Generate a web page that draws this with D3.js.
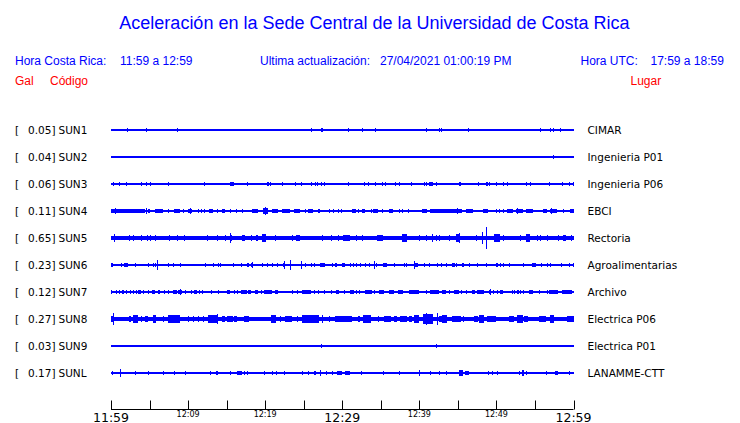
<!DOCTYPE html>
<html><head><meta charset="utf-8">
<script src="https://cdn.jsdelivr.net/npm/d3@7"></script>
<style>
html,body{margin:0;padding:0;background:#fff;}
svg{display:block;}
</style></head>
<body>
<svg id="c" width="740" height="423"></svg>
<script>
// ---------- data ----------
const codes  = ["SUN1","SUN2","SUN3","SUN4","SUN5","SUN6","SUN7","SUN8","SUN9","SUNL"];
const places = ["CIMAR","Ingenieria P01","Ingenieria P06","EBCI","Rectoria","Agroalimentarias","Archivo","Electrica P06","Electrica P01","LANAMME-CTT"];
const peaks  = [0.05,0.04,0.06,0.11,0.65,0.23,0.12,0.27,0.03,0.17];
const noise  = [0.03,0.03,0.03,0.03,0.12,0.03,0.03,0.13,0.03,0.03];
const tickMinutes = [0,5,10,15,20,25,30,35,40,45,50,55,60];
const tickLabels  = {0:"11:59",10:"12:09",20:"12:19",30:"12:29",40:"12:39",50:"12:49",60:"12:59"};
const majorTicks  = [0,30,60];

// events: [minute, amplitude (Gal), duration (min)]
const sun1Events = [[2.1,.1,0],[4.5,.1,0],[8.6,.1,0],[26.0,.06,0],[27.3,.1,.2],[30.8,.06,0],[32.5,.06,0],[34.2,.06,0],[40.9,.1,0],[42.5,.1,0],[42.8,.08,0],[46.3,.1,0],[55.6,.1,0],[56.9,.1,.15],[57.4,.1,0],[58.2,.1,0]];
const sun2Events = [[57.3,.1,0]];
const sun3Events = [[0.3,.08,0],[1.1,.08,0],[1.9,.08,0],[3.9,.06,0],[4.5,.06,0],[5.1,.08,0],[7.4,.06,0],[12.1,.08,0],[15.5,.1,.4],[17.6,.08,0],[20.2,.1,.3],[20.6,.08,0],[22.2,.08,0],[23.9,.08,0],[24.6,.06,0],[25.9,.06,0],[26.4,.08,0],[26.7,.06,0],[27.2,.06,0],[27.6,.1,.2],[30.7,.06,0],[32.8,.06,0],[33.3,.08,0],[34.3,.06,0],[35.2,.06,0],[35.5,.06,0],[36.9,.06,0],[37.4,.08,0],[38.9,.08,0],[40.6,.08,0],[40.8,.06,0],[41.3,.1,.3],[41.6,.08,0],[42.2,.08,0],[45.1,.1,.3],[47.6,.06,0],[48.7,.1,.2],[49.1,.08,0],[50.0,.08,0],[50.8,.06,0],[51.4,.06,0],[53.8,.06,0],[54.3,.1,.2],[56.8,.06,0],[58.5,.1,.2],[59.4,.08,0],[59.9,.08,0]];
const sun4Events = [[0,.1,1.2],[0.5,.16,0],[1.2,.06,.9],[2.1,.08,2.3],[4.5,.16,0],[4.8,.08,.2],[5.7,.08,1.1],[7.4,.06,0],[8.2,.08,.8],[9.4,.08,0],[10,.1,.5],[10.2,.16,0],[11.3,.06,0],[11.7,.06,0],[12.1,.06,0],[12.7,.1,.5],[13.8,.06,0],[14.4,.08,.4],[15.5,.06,0],[16.2,.06,0],[17,.06,0],[18.3,.08,.8],[19.7,.12,.7],[20,.18,0],[20.9,.08,.7],[22.2,.08,1.0],[23.8,.08,.7],[25.2,.06,0],[25.6,.08,.6],[26.8,.08,.3],[28.3,.06,0],[28.8,.06,0],[29.4,.06,0],[29.9,.05,0],[31.3,.08,.5],[32,.05,0],[32.6,.06,.3],[33.7,.05,0],[34,.08,.7],[35.2,.05,0],[36.1,.08,.5],[37.4,.05,0],[37.7,.05,0],[38.5,.05,0],[40.3,.08,.7],[41.4,.08,4.1],[44.9,.14,0],[46.1,.08,.8],[48.2,.08,.7],[50,.05,0],[50.3,.05,0],[50.8,.05,.2],[51.4,.06,.7],[52.5,.1,.9],[52.7,.14,0],[53.8,.08,.9],[56.1,.08,.5],[56.9,.08,1.0],[57.1,.12,0],[58.7,.05,0],[59.6,.08,.4]];
const sun5Events = [[0.4,.18,0],[2.3,.16,0],[2.9,.14,0],[3.9,.16,0],[4.7,.16,0],[5.1,.14,0],[5.7,.14,0],[7.5,.14,0],[8.6,.16,0],[9.5,.14,0],[12.5,.14,0],[13.8,.16,0],[14.8,.14,0],[15.5,.24,0],[15.6,.14,0],[17,.16,.4],[18.2,.14,0],[18.8,.14,0],[19,.14,0],[19.6,.18,.5],[21.3,.14,0],[23.5,.14,0],[24,.16,.5],[27.4,.14,0],[28.6,.14,0],[29.5,.14,0],[30.1,.16,.9],[31.8,.14,0],[32.6,.14,0],[34.5,.16,.8],[37.7,.18,.7],[39.9,.14,0],[40.8,.16,0],[41.6,.2,0],[42.1,.14,0],[42.6,.14,0],[43.9,.16,0],[44.7,.2,.5],[45.1,.24,0],[47.3,.14,0],[48.1,.3,0],[48.7,.62,0],[49.7,.18,.8],[50.8,.14,0],[53,.14,0],[53.9,.18,.5],[55.3,.14,0],[55.7,.14,0],[56.5,.14,0],[58,.14,0],[58.6,.16,.4],[59.7,.14,0]];
const sun6Events = [[0,.08,.3],[1.3,.05,0],[1.7,.08,.5],[3.1,.05,0],[4.8,.05,0],[5.5,.05,0],[5.7,.06,0],[6.0,.27,0],[7.4,.05,0],[8.1,.05,0],[9,.05,0],[12.2,.05,0],[13.2,.05,0],[13.9,.05,0],[14.2,.05,0],[15.8,.05,0],[16.8,.05,0],[17.6,.05,0],[17.8,.05,0],[18.1,.08,.3],[18.3,.14,0],[19.6,.05,0],[20.3,.05,0],[20.9,.05,0],[21.5,.05,0],[22.3,.1,.3],[22.4,.2,0],[23.2,.24,0],[24.6,.22,0],[25.2,.05,0],[25.9,.05,0],[26.3,.05,0],[27.1,.08,.6],[28.7,.05,0],[29,.08,.3],[30,.08,.3],[31,.05,0],[31.4,.05,0],[31.8,.05,0],[32.3,.05,0],[33,.05,0],[33.5,.05,0],[34.1,.18,0],[34.4,.05,0],[35.3,.08,.5],[36.7,.05,0],[38,.05,0],[38.3,.05,0],[39.3,.18,0],[39.5,.08,.3],[40.6,.05,0],[41.3,.05,0],[42.3,.05,0],[42.8,.05,0],[43.4,.05,0],[44.2,.08,.4],[44.8,.05,0],[45.5,.1,.3],[46.4,.05,0],[47.5,.05,0],[48.7,.05,0],[49.9,.08,.3],[50.5,.05,0],[50.8,.05,0],[51.6,.05,0],[53.5,.05,0],[54.6,.08,.5],[55.8,.05,0],[56.5,.05,0],[57,.05,0],[58.4,.05,0],[59.4,.05,0],[59.9,.05,0]];
const sun7Events = [[0,.06,0],[0.7,.05,0],[1.0,.05,0],[1.4,.06,.35],[1.9,.05,0],[2.5,.05,0],[2.9,.05,0],[3.2,.05,0],[3.5,.06,.35],[4.2,.05,0],[4.8,.05,0],[5.3,.06,.4],[6.1,.06,.2],[6.9,.05,0],[7.4,.05,0],[8.1,.06,.45],[8.7,.06,.5],[9.0,.12,0],[9.6,.05,0],[10.4,.05,0],[10.8,.06,.3],[11.4,.05,0],[11.8,.05,0],[13,.05,0],[13.9,.05,0],[15,.06,.5],[15.9,.05,0],[16.3,.05,0],[16.9,.06,.7],[17.8,.06,.3],[18.7,.06,.4],[19.4,.05,0],[19.9,.06,1.0],[21.3,.06,.4],[23.5,.05,0],[24.1,.05,0],[24.8,.06,1.1],[26.3,.05,0],[26.9,.05,0],[27.6,.05,0],[28.5,.05,0],[29.2,.06,.35],[30.2,.05,0],[31.0,.06,.5],[31.8,.05,0],[32.2,.05,0],[32.9,.06,.9],[34.1,.05,0],[34.8,.06,.6],[35.1,.1,0],[36,.06,.65],[37.2,.06,.7],[38.6,.06,1.3],[40.9,.05,0],[41.4,.06,1.1],[42.9,.06,.55],[43.8,.05,0],[44.5,.06,.65],[45.4,.05,0],[46,.05,0],[46.8,.06,.4],[47.5,.06,.85],[49,.08,.3],[49.2,.12,0],[49.6,.05,0],[50.1,.05,0],[50.5,.06,.4],[52,.05,0],[52.3,.05,0],[52.7,.06,.2],[53.1,.05,0],[53.5,.05,0],[54.2,.06,.55],[55.5,.05,0],[56.5,.05,0],[56.8,.06,1.2],[58.5,.06,1.3]];
const sun8Events = [[0,.16,.45],[0.3,.32,0],[2.3,.14,.3],[2.8,.2,.7],[3.9,.14,0],[4.4,.16,.4],[5.5,.2,.3],[6.8,.14,0],[7.4,.18,1.5],[10.0,.14,0],[10.7,.14,0],[11.3,.14,0],[11.9,.14,0],[12.6,.2,1.3],[13.7,.28,0],[14.4,.16,.45],[15.0,.16,.85],[15.9,.16,.5],[17.2,.16,.65],[20.7,.2,.75],[21.9,.14,0],[22.6,.16,.85],[24.1,.14,0],[24.8,.2,2.2],[27.4,.22,0],[28.3,.14,0],[29.1,.16,1.3],[29.8,.16,.5],[30.4,.16,.9],[32.1,.14,.2],[32.7,.18,1],[34.7,.14,0],[35.4,.16,.9],[36.7,.16,.45],[37.5,.16,.9],[38.6,.16,.45],[39.3,.2,.7],[40.5,.26,1.3],[40.8,.34,0],[42.3,.34,0],[42.5,.16,.9],[43.0,.2,.65],[44.3,.16,1.1],[45.7,.14,0],[47.1,.16,.45],[47.7,.2,.65],[48.8,.16,1.1],[51.6,.16,.65],[52.7,.2,.8],[53.6,.16,.55],[55.5,.16,.9],[56.9,.2,.6],[59.2,.16,1.0]];
const sun9Events = [[27.2,.05,0],[42.2,.05,0]];
const sunlEvents = [[0.1,.06,.2],[1.2,.2,0],[3.1,.06,.2],[4.8,.05,0],[6.8,.05,0],[8.2,.05,0],[9.6,.05,0],[12.9,.05,0],[13.6,.05,.25],[15.5,.05,0],[16.3,.08,.65],[16.6,.1,0],[17.2,.05,0],[17.7,.05,0],[19.9,.05,0],[20.9,.05,0],[21.4,.05,0],[22.4,.05,0],[24.8,.06,0],[25.5,.06,.2],[26.3,.06,.3],[27.1,.16,0],[27.9,.05,0],[28.7,.05,0],[29.3,.08,.65],[29.8,.05,.2],[30.4,.06,.65],[32.4,.05,0],[35.3,.05,0],[37.4,.05,0],[39.9,.14,.2],[41.4,.05,0],[42.5,.05,0],[43.4,.05,0],[45.2,.12,.5],[45.9,.08,.5],[48.9,.05,0],[49.4,.05,0],[50.1,.05,0],[52.9,.05,0],[53.3,.14,.3],[53.8,.05,0],[56.4,.05,0],[57.6,.08,.45],[59.4,.06,.2]];
const allEvents = [sun1Events,sun2Events,sun3Events,sun4Events,sun5Events,sun6Events,sun7Events,sun8Events,sun9Events,sunlEvents];

// ---------- drawing ----------
const svg = d3.select("#c");
const BLUE = "#0000ff", RED = "#ff0000";
const sans = "'Liberation Sans', Arial, sans-serif";
const dv = "'DejaVu Sans', sans-serif";

// header
svg.append("text").attr("x",374.5).attr("y",29).attr("text-anchor","middle")
  .attr("font-family",sans).attr("font-size",18).attr("fill",BLUE)
  .text("Aceleración en la Sede Central de la Universidad de Costa Rica");
const hdr = [
  {t:"Hora Costa Rica:",x:15,y:65,c:BLUE},
  {t:"11:59 a 12:59",x:120,y:65,c:BLUE},
  {t:"Ultima actualización:",x:260,y:65,c:BLUE},
  {t:"27/04/2021 01:00:19 PM",x:380,y:65,c:BLUE},
  {t:"Hora UTC:",x:580.5,y:65,c:BLUE},
  {t:"17:59 a 18:59",x:650.5,y:65,c:BLUE},
  {t:"Gal",x:15,y:85,c:RED},
  {t:"Código",x:50,y:85,c:RED},
  {t:"Lugar",x:630.5,y:85,c:RED}
];
svg.selectAll("text.hdr").data(hdr).join("text").attr("class","hdr")
  .attr("x",d=>d.x).attr("y",d=>d.y).attr("font-family",sans).attr("font-size",12)
  .attr("fill",d=>d.c).text(d=>d.t);

// scales
const x = d3.scaleLinear().domain([0,60]).range([111,573.5]);
const y = d3.scalePoint().domain(codes).range([130,373]);
const band = d3.scaleLinear().domain([0,0.65]).range([0,11]);     // noise band half-height
const amp  = d3.scaleLinear().domain([0,0.65]).range([0.9,11]);   // event half-height

// rows
const rows = svg.selectAll("g.row").data(codes).join("g").attr("class","row")
  .attr("transform",d=>`translate(0,${y(d)})`);

rows.append("text").attr("x",15).attr("y",4).attr("font-family",dv).attr("font-size",10.5).text("[");
rows.append("text").attr("x",55.5).attr("y",4).attr("text-anchor","end").attr("font-family",dv).attr("font-size",10.5)
  .text((d,i)=>peaks[i].toFixed(2)+"]");
rows.append("text").attr("x",58.5).attr("y",4).attr("font-family",dv).attr("font-size",10.5).text(d=>d);
rows.append("text").attr("x",587.5).attr("y",4).attr("font-family",dv).attr("font-size",10.5)
  .text((d,i)=>places[i]);

// baseline noise band
rows.append("rect").attr("x",x(0)).attr("width",x(60)-x(0))
  .attr("y",(d,i)=>-Math.max(0.5,band(noise[i])))
  .attr("height",(d,i)=>Math.max(1,2*band(noise[i])))
  .attr("fill",BLUE).attr("shape-rendering","crispEdges");

// events
rows.each(function(d,i){
  d3.select(this).selectAll("rect.ev").data(allEvents[i]).join("rect").attr("class","ev")
    .attr("x",e=>x(e[0]))
    .attr("width",e=>Math.max(1,x(Math.min(60,e[0]+e[2]))-x(e[0])))
    .attr("y",e=>-amp(e[1]))
    .attr("height",e=>2*amp(e[1]))
    .attr("fill",BLUE).attr("shape-rendering","crispEdges");
});

// time axis
const ax = svg.append("g").attr("transform","translate(0,409.5)");
ax.append("line").attr("x1",x(0)).attr("x2",x(60)).attr("stroke","#000").attr("stroke-width",1);
ax.selectAll("line.tk").data(tickMinutes).join("line").attr("class","tk")
  .attr("x1",d=>Math.round(x(d))+0.5).attr("x2",d=>Math.round(x(d))+0.5)
  .attr("y1",0).attr("y2",-9).attr("stroke","#000").attr("stroke-width",1);
ax.selectAll("text.tl").data(Object.keys(tickLabels).map(Number)).join("text").attr("class","tl")
  .attr("x",d=>x(d)).attr("y",d=>majorTicks.includes(d)?12:7.5)
  .attr("text-anchor","middle").attr("font-family",dv)
  .attr("font-size",d=>majorTicks.includes(d)?12.5:8)
  .attr("fill","#000").text(d=>tickLabels[d]);
</script>
</body></html>
